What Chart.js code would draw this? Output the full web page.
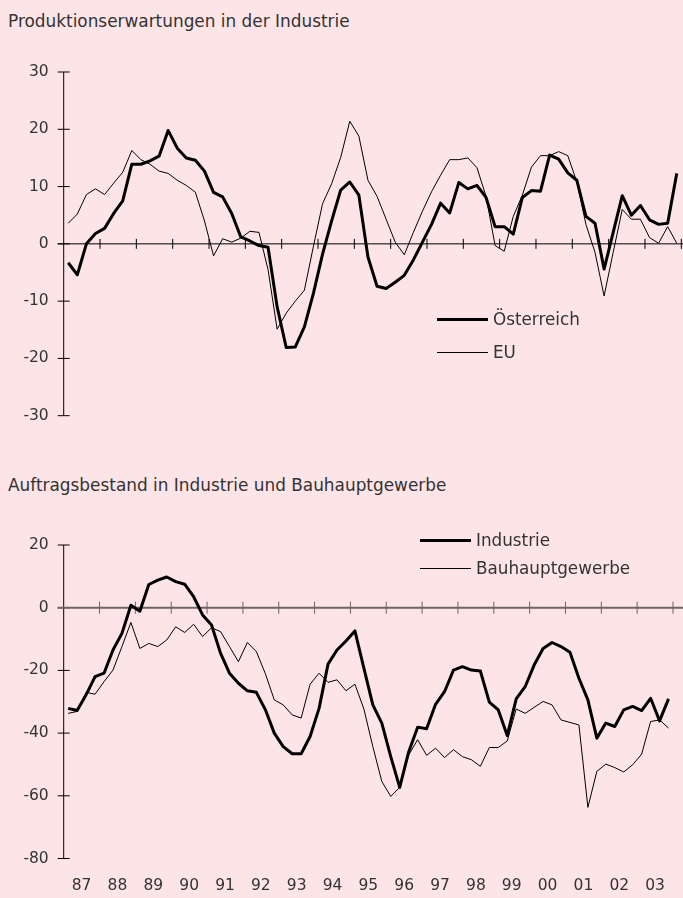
<!DOCTYPE html>
<html lang="de">
<head>
    <meta charset="UTF-8">
    <title>Produktionserwartungen und Auftragsbestand</title>
    <script src="https://cdn.jsdelivr.net/npm/chart.js"></script>
    <style>
        * {
            margin: 0;
            padding: 0;
            box-sizing: border-box;
        }
        body {
            width: 683px;
            height: 898px;
            background-color: #fde4e6;
            font-family: "DejaVu Sans", sans-serif;
            color: #333;
            position: relative;
            overflow: hidden;
        }
        .title {
            position: absolute;
            left: 8px;
            font-size: 16.9px;
            line-height: 20px;
            white-space: nowrap;
        }
        canvas {
            position: absolute;
            left: 0;
        }
        .legend-item {
            position: absolute;
            display: flex;
            align-items: center;
            height: 20px;
            font-size: 16.8px;
            white-space: nowrap;
        }
        .legend-item .swatch {
            display: inline-block;
            width: 51px;
            margin-right: 5px;
            border-top-style: solid;
            border-top-color: #000;
        }
    </style>
</head>
<body>
    <div class="title" style="top: 11px;">Produktionserwartungen in der Industrie</div>
    <canvas id="topChart" width="683" height="440" style="top: 0;"></canvas>

    <div class="title" style="top: 475px;">Auftragsbestand in Industrie und Bauhauptgewerbe</div>
    <canvas id="bottomChart" width="683" height="458" style="top: 440px;"></canvas>

    <script>
        // Jahre 1987-2003, Quartalswerte (Salden in %)
        const years = ['87', '88', '89', '90', '91', '92', '93', '94', '95', '96', '97', '98', '99', '00', '01', '02', '03'];

        const oesterreich = [
            -3.3, -5.4, 0.0, 1.8, 2.7, 5.3, 7.5, 13.9, 13.9, 14.5, 15.3, 19.8,
            16.7, 15.0, 14.6, 12.7, 9.0, 8.2, 5.3, 1.2, 0.5, -0.3, -0.6, -11.0,
            -18.1, -18.0, -14.5, -8.6, -1.8, 4.0, 9.4, 10.8, 8.5, -2.3, -7.4, -7.8,
            -6.7, -5.5, -2.8, 0.3, 3.4, 7.1, 5.4, 10.7, 9.6, 10.2, 8.1, 3.0,
            3.0, 1.7, 8.1, 9.3, 9.2, 15.5, 14.8, 12.4, 11.1, 4.8, 3.6, -4.4,
            2.0, 8.4, 5.0, 6.7, 4.2, 3.4, 3.6, 12.3
        ];
        const eu = [
            3.6, 5.2, 8.6, 9.6, 8.6, 10.6, 12.5, 16.3, 14.7, 13.9, 12.7, 12.3,
            11.1, 10.2, 9.0, 4.0, -2.1, 0.9, 0.3, 1.0, 2.2, 2.0, -4.5, -14.9,
            -12.1, -10.0, -8.1, -0.4, 7.0, 10.5, 15.1, 21.4, 18.8, 11.1, 8.3, 4.3,
            0.3, -1.9, 2.0, 5.7, 9.1, 12.0, 14.7, 14.7, 15.0, 13.3, 8.3, -0.3,
            -1.3, 4.8, 8.5, 13.4, 15.4, 15.4, 16.1, 15.4, 10.8, 3.4, -1.5, -9.1,
            -1.5, 6.0, 4.3, 4.3, 1.1, 0.1, 3.0, 0.1
        ];
        const industrie = [
            -32.1, -32.8, -27.8, -22.0, -20.9, -13.5, -8.2, 0.8, -1.1, 7.4, 8.8, 9.8,
            8.3, 7.5, 3.5, -2.3, -5.5, -14.5, -20.9, -24.1, -26.5, -27.0, -32.5, -40.0,
            -44.3, -46.6, -46.6, -41.1, -32.1, -18.0, -13.5, -10.6, -7.4, -19.3, -31.0, -36.8,
            -47.5, -57.3, -46.0, -38.1, -38.6, -30.8, -26.8, -19.9, -18.8, -19.9, -20.2, -30.1,
            -32.6, -40.8, -29.1, -25.2, -18.3, -13.0, -11.1, -12.4, -14.2, -22.5, -29.4, -41.6,
            -36.8, -37.9, -32.6, -31.5, -32.8, -28.9, -36.1, -29.1
        ];
        const bauhauptgewerbe = [
            -33.7, -33.1, -27.0, -27.6, -23.6, -19.9, -12.4, -4.7, -13.0, -11.4, -12.4, -10.3,
            -6.1, -7.9, -5.3, -9.2, -6.4, -7.6, -12.4, -17.2, -11.1, -14.0, -21.0, -29.4,
            -31.0, -34.2, -35.2, -24.4, -20.9, -23.8, -23.0, -26.5, -24.4, -32.3, -44.3, -55.4,
            -60.2, -57.3, -47.0, -42.1, -47.1, -44.8, -47.8, -45.3, -47.5, -48.5, -50.6, -44.6,
            -44.6, -42.5, -32.3, -33.7, -31.8, -29.9, -31.0, -35.8, -36.6, -37.4, -63.7, -52.2,
            -49.9, -51.0, -52.4, -50.1, -46.7, -36.3, -35.8, -38.4
        ];

        const fontFamily = '"DejaVu Sans", sans-serif';
        const axisLeft = 63.7;

        // Quartal i liegt in der Mitte seines Viertels auf der Jahresachse
        function toPoints(values) {
            return values.map((v, i) => ({ x: (i + 0.5) / 4, y: v }));
        }

        // Achsen mit Kreuzstrichen wie im Original (Nulllinie mit Jahresmarken)
        const crossAxes = {
            id: 'crossAxes',
            beforeDatasetsDraw(chart, args, opts) {
                const { ctx, scales: { x, y } } = chart;
                const x0 = x.getPixelForValue(0);
                const yZero = y.getPixelForValue(0);
                ctx.save();
                ctx.strokeStyle = '#000';
                ctx.lineWidth = 1;
                ctx.beginPath();
                ctx.moveTo(x0, y.getPixelForValue(y.max));
                ctx.lineTo(x0, y.getPixelForValue(y.min));
                y.ticks.forEach(t => {
                    const p = y.getPixelForValue(t.value);
                    ctx.moveTo(x0 - 6, p);
                    ctx.lineTo(x0 + 6, p);
                });
                ctx.stroke();

                ctx.strokeStyle = opts.zeroColor;
                ctx.lineWidth = opts.zeroWidth;
                ctx.beginPath();
                ctx.moveTo(x0 - 6, yZero);
                ctx.lineTo(chart.width, yZero);
                ctx.stroke();

                ctx.lineWidth = 1;
                ctx.beginPath();
                for (let k = 1; k <= years.length; k++) {
                    const p = x.getPixelForValue(k);
                    ctx.moveTo(p, yZero - opts.tick);
                    ctx.lineTo(p, yZero + opts.tick);
                }
                ctx.stroke();
                ctx.restore();
            }
        };

        function lineDataset(label, values, width) {
            return {
                label: label,
                data: toPoints(values),
                borderColor: '#000',
                borderWidth: width,
                pointRadius: 0,
                tension: 0,
                borderJoinStyle: 'round'
            };
        }

        function yScale(min, max, step) {
            return {
                min: min,
                max: max,
                ticks: {
                    stepSize: step,
                    padding: 15,
                    color: '#333',
                    font: { family: fontFamily, size: 15.5 }
                },
                grid: { display: false, drawTicks: false },
                border: { display: false },
                afterFit: s => { s.width = axisLeft; }
            };
        }

        function addLegend(chart, left, tops) {
            chart.data.datasets.forEach((ds, i) => {
                const item = document.createElement('div');
                item.className = 'legend-item';
                item.style.left = left + 'px';
                item.style.top = tops[i] + 'px';
                const sw = document.createElement('span');
                sw.className = 'swatch';
                sw.style.borderTopWidth = ds.borderWidth + 'px';
                const txt = document.createElement('span');
                txt.textContent = ds.label;
                item.appendChild(sw);
                item.appendChild(txt);
                document.body.appendChild(item);
            });
        }

        const topChart = new Chart(document.getElementById('topChart'), {
            type: 'line',
            data: {
                datasets: [
                    lineDataset('Österreich', oesterreich, 3),
                    lineDataset('EU', eu, 1)
                ]
            },
            options: {
                responsive: false,
                animation: false,
                layout: { padding: { top: 72, right: 1.7, bottom: 17, left: 0 } },
                plugins: {
                    legend: { display: false },
                    tooltip: { enabled: false },
                    crossAxes: { zeroColor: '#000', zeroWidth: 1, tick: 5 }
                },
                scales: {
                    x: { type: 'linear', min: 0, max: years.length, display: false },
                    y: yScale(-30, 30, 10)
                }
            },
            plugins: [crossAxes]
        });

        const bottomChart = new Chart(document.getElementById('bottomChart'), {
            type: 'line',
            data: {
                datasets: [
                    lineDataset('Industrie', industrie, 3),
                    lineDataset('Bauhauptgewerbe', bauhauptgewerbe, 1)
                ]
            },
            options: {
                responsive: false,
                animation: false,
                layout: { padding: { top: 105, right: 1.7, bottom: 0, left: 0 } },
                plugins: {
                    legend: { display: false },
                    tooltip: { enabled: false },
                    crossAxes: { zeroColor: '#6e6464', zeroWidth: 2, tick: 6 }
                },
                scales: {
                    x: {
                        type: 'linear',
                        min: 0,
                        max: years.length,
                        grid: { display: false, drawTicks: false },
                        border: { display: false },
                        afterBuildTicks: s => { s.ticks = years.map((_, k) => ({ value: k + 0.5 })); },
                        afterFit: s => { s.height = 39.5; },
                        ticks: {
                            autoSkip: false,
                            maxRotation: 0,
                            padding: 18,
                            color: '#333',
                            font: { family: fontFamily, size: 15.5 },
                            callback: v => years[Math.floor(v)]
                        }
                    },
                    y: yScale(-80, 20, 20)
                }
            },
            plugins: [crossAxes]
        });

        addLegend(topChart, 437, [309, 342]);
        addLegend(bottomChart, 420, [530, 558]);
    </script>
</body>
</html>
